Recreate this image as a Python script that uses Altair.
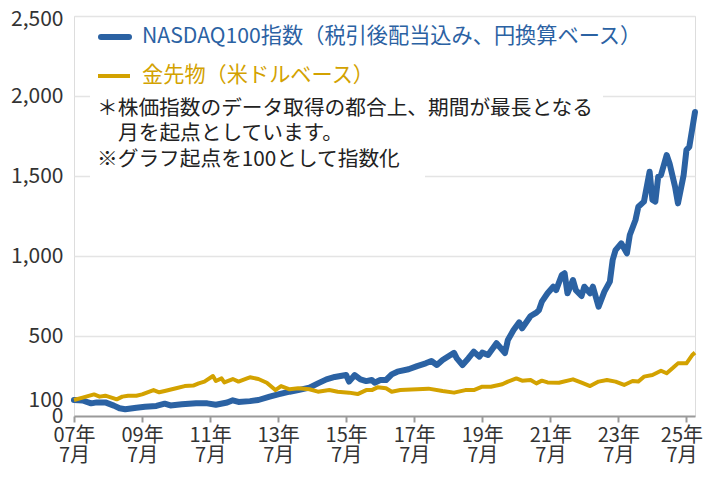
import altair as alt
import pandas as pd

# ---- data ----
nasdaq_dates = [
    "2007/07/01", "2007/10/01", "2008/01/01", "2008/03/01", "2008/06/01", "2008/09/01",
    "2008/11/01", "2009/01/01", "2009/05/01", "2009/08/01", "2009/12/01", "2010/03/01",
    "2010/05/01", "2010/09/01", "2011/02/01", "2011/06/01", "2011/09/01", "2012/01/01",
    "2012/03/01", "2012/05/01", "2012/09/01", "2012/12/01", "2013/04/01", "2013/07/01",
    "2013/11/01", "2014/02/01", "2014/06/01", "2014/09/01", "2014/12/01", "2015/03/01",
    "2015/05/01", "2015/07/01", "2015/08/01", "2015/10/01", "2015/12/01", "2016/02/01",
    "2016/04/01", "2016/05/01", "2016/07/01", "2016/09/01", "2016/11/01", "2017/01/01",
    "2017/05/01", "2017/08/01", "2017/11/01", "2018/01/01", "2018/03/01", "2018/05/01",
    "2018/09/01", "2018/10/01", "2018/12/01", "2019/02/01", "2019/04/01", "2019/06/01",
    "2019/07/01", "2019/09/01", "2019/12/01", "2020/03/01", "2020/04/01", "2020/06/01",
    "2020/08/01", "2020/09/01", "2020/12/01", "2021/02/01", "2021/03/01", "2021/04/01",
    "2021/06/01", "2021/08/01", "2021/09/01", "2021/11/01", "2021/12/01", "2022/01/01",
    "2022/03/01", "2022/04/01", "2022/06/01", "2022/07/01", "2022/09/01", "2022/10/01",
    "2022/12/01", "2023/02/01", "2023/04/01", "2023/05/01", "2023/06/01", "2023/08/01",
    "2023/10/01", "2023/11/01", "2024/01/01", "2024/02/01", "2024/04/01", "2024/06/01",
    "2024/07/01", "2024/08/01", "2024/09/01", "2024/10/01", "2024/12/01", "2025/01/01",
    "2025/03/01", "2025/04/01", "2025/06/01", "2025/07/01", "2025/08/01", "2025/10/01",
]
nasdaq_values = [
    100, 97, 79, 85, 85, 65,
    48, 42, 52, 58, 63, 77,
    66, 73, 80, 79, 70, 84,
    98, 88, 93, 100, 121, 135,
    152, 162, 177, 204, 229, 244,
    250, 256, 215, 256, 229, 218,
    225, 208, 225, 225, 260, 277,
    292, 312, 329, 344, 319, 350,
    395, 360, 319, 360, 402, 371,
    396, 381, 455, 394, 475, 537,
    585, 548, 625, 646, 662, 715,
    767, 808, 787, 881, 892, 767,
    850, 787, 750, 808, 767, 808,
    683, 777, 840, 975, 1037, 1079,
    1017, 1131, 1225, 1308, 1340, 1527,
    1350, 1340, 1496, 1506, 1631, 1579,
    1433, 1329, 1506, 1662, 1683, 1900,
]

gold_dates = [
    "2007/07/01", "2007/10/01", "2008/02/01", "2008/04/01", "2008/06/01", "2008/09/01",
    "2008/10/01", "2008/12/01", "2009/02/01", "2009/05/01", "2009/07/01", "2009/11/01",
    "2010/01/01", "2010/03/01", "2010/07/01", "2010/10/01", "2011/01/01", "2011/03/01",
    "2011/05/01", "2011/08/01", "2011/09/01", "2011/11/01", "2011/12/01", "2012/03/01",
    "2012/05/01", "2012/08/01", "2012/09/01", "2012/12/01", "2013/03/01", "2013/06/01",
    "2013/08/01", "2013/11/01", "2014/02/01", "2014/06/01", "2014/09/01", "2015/01/01",
    "2015/04/01", "2015/08/01", "2015/11/01", "2016/02/01", "2016/04/01", "2016/06/01",
    "2016/09/01", "2016/11/01", "2017/02/01", "2017/08/01", "2017/12/01", "2018/05/01",
    "2018/09/01", "2019/01/01", "2019/04/01", "2019/07/01", "2019/10/01", "2020/02/01",
    "2020/04/01", "2020/07/01", "2020/09/01", "2020/12/01", "2021/02/01", "2021/04/01",
    "2021/06/01", "2021/10/01", "2022/03/01", "2022/06/01", "2022/09/01", "2022/12/01",
    "2023/03/01", "2023/06/01", "2023/09/01", "2023/12/01", "2024/02/01", "2024/04/01",
    "2024/07/01", "2024/10/01", "2024/12/01", "2025/02/01", "2025/04/01", "2025/07/01",
    "2025/09/01", "2025/10/01",
]
gold_values = [
    100, 115, 135, 121, 127, 110,
    104, 121, 127, 127, 135, 162,
    148, 156, 173, 187, 190, 204,
    215, 250, 219, 235, 210, 231,
    215, 235, 242, 231, 208, 162,
    187, 167, 173, 167, 152, 162,
    152, 146, 137, 162, 162, 179,
    173, 152, 162, 167, 171, 156,
    146, 162, 162, 183, 183, 198,
    215, 235, 221, 225, 204, 221,
    210, 208, 229, 208, 187, 215,
    225, 215, 194, 219, 215, 246,
    256, 283, 267, 298, 329, 329,
    381, 396,
]

y_ticks = [0, 100, 500, 1000, 1500, 2000, 2500]
x_tick_years = [2007, 2009, 2011, 2013, 2015, 2017, 2019, 2021, 2023, 2025]

legend_labels = ["NASDAQ100指数（税引後配当込み、円換算ベース）", "金先物（米ドルベース）"]
notes = [
    "＊株価指数のデータ取得の都合上、期間が最長となる",
    "月を起点としています。",
    "※グラフ起点を100として指数化",
]

BLUE = "#2b62a3"
GOLD = "#d3a200"
FONT = "Noto Sans CJK JP"

nasdaq_df = pd.DataFrame({"date": nasdaq_dates, "value": nasdaq_values})
gold_df = pd.DataFrame({"date": gold_dates, "value": gold_values})

W, H = 621, 400

x_scale = alt.Scale(domain=[alt.DateTime(year=2007, month=7, date=1),
                            alt.DateTime(year=2025, month=10, date=1)])
y_scale = alt.Scale(domain=[0, 2500], nice=False)

x_axis = alt.Axis(
    values=[alt.DateTime(year=y, month=7, date=1) for y in x_tick_years],
    labelExpr="[timeFormat(datum.value, '%y') + '年', '7月']",
    title=None, grid=False,
    domainColor="#9a9a9a", domainWidth=2,
    tickColor="#9a9a9a", tickWidth=2, tickSize=6,
    labelFontSize=20, labelColor="#333333", labelPadding=3,
    labelLineHeight=20, labelFont=FONT, labelAngle=0,
    labelOverlap=False, labelFlush=False,
    labelOffset={"condition": {"test": "year(datum.value) == 2025", "value": -5}, "value": 0},
)
y_axis = alt.Axis(
    values=y_ticks, title=None,
    labelExpr="format(datum.value, ',.0f')",
    domain=False, ticks=False, tickSize=0,
    labelFontSize=21, labelColor="#333333", labelPadding=11, labelFont=FONT,
    labelOffset={"condition": {"test": "datum.value == 2500", "value": 3}, "value": 0},
    gridColor="#e4e4e4", gridWidth=1.5,
    gridOpacity={"condition": {"test": "datum.value < 500", "value": 0}, "value": 1},
    labelOverlap=False,
)

one = pd.DataFrame({"k": [0]})

nasdaq_line = alt.Chart(nasdaq_df).mark_line(color=BLUE, strokeWidth=6, strokeJoin="round", strokeCap="round").encode(
    x=alt.X("date:T", scale=x_scale, axis=x_axis),
    y=alt.Y("value:Q", scale=y_scale, axis=y_axis),
)
gold_line = alt.Chart(gold_df).mark_line(color=GOLD, strokeWidth=4, strokeJoin="round").encode(
    x=alt.X("date:T", scale=x_scale),
    y=alt.Y("value:Q", scale=y_scale),
)

# white boxes behind the notes (hide the grid lines there)
box1 = alt.Chart(one).mark_rect(color="white").encode(
    x=alt.value(16), x2=alt.value(529), y=alt.value(72), y2=alt.value(108))
box2 = alt.Chart(one).mark_rect(color="white").encode(
    x=alt.value(16), x2=alt.value(351), y=alt.value(108), y2=alt.value(166))

leg_blue = alt.Chart(one).mark_rule(color=BLUE, strokeWidth=6, strokeCap="round").encode(
    x=alt.value(27), x2=alt.value(55), y=alt.value(21))
leg_gold = alt.Chart(one).mark_rule(color=GOLD, strokeWidth=4).encode(
    x=alt.value(24), x2=alt.value(56), y=alt.value(60))
leg_size = 21.2
leg_text1 = alt.Chart(one).mark_text(text=legend_labels[0], color=BLUE, fontSize=leg_size, font=FONT,
                                     align="left", baseline="middle").encode(
    x=alt.value(68), y=alt.value(21))
leg_text2 = alt.Chart(one).mark_text(text=legend_labels[1], color=GOLD, fontSize=leg_size, font=FONT,
                                     align="left", baseline="middle").encode(
    x=alt.value(68), y=alt.value(60))

note_size = 20.7
note1 = alt.Chart(one).mark_text(text=notes[0], color="#222222", fontSize=note_size, font=FONT,
                                 align="left", baseline="middle").encode(x=alt.value(23), y=alt.value(93))
note2 = alt.Chart(one).mark_text(text=notes[1], color="#222222", fontSize=note_size, font=FONT,
                                 align="left", baseline="middle").encode(x=alt.value(44), y=alt.value(118))
note3 = alt.Chart(one).mark_text(text=notes[2], color="#222222", fontSize=note_size, font=FONT,
                                 align="left", baseline="middle").encode(x=alt.value(23), y=alt.value(144))

chart = alt.layer(
    nasdaq_line, box1, box2, leg_blue, leg_gold, leg_text1, leg_text2,
    note1, note2, note3, gold_line,
).properties(
    width=W, height=H,
    autosize=alt.AutoSizeParams(type="none"),
    padding={"left": 66, "top": 8, "right": 10, "bottom": 50},
).configure_view(stroke=None).configure(font=FONT)

chart.save("out.html", embed_options={"renderer": "svg", "actions": False})
